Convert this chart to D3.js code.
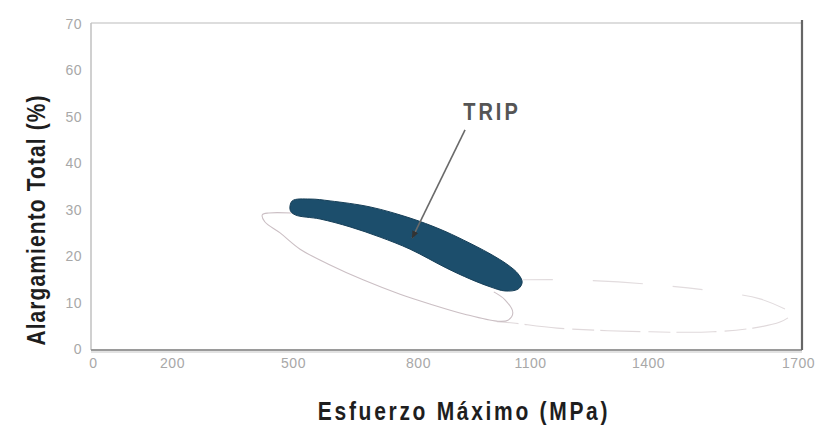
<!DOCTYPE html>
<html>
<head>
<meta charset="utf-8">
<script src="https://cdn.jsdelivr.net/npm/d3@7"></script>
<style>
  html, body { margin: 0; padding: 0; background: #fff; }
  svg { display: block; }
</style>
</head>
<body>
<svg id="chart" width="830" height="426"></svg>
<script>
// ---------- data ----------
const xTicks = [0, 200, 500, 800, 1100, 1400, 1700];
const yTicks = [0, 10, 20, 30, 40, 50, 60, 70];
const xLabel = "Esfuerzo Máximo (MPa)";
const yLabel = "Alargamiento Total (%)";

// TRIP region (closed outline, MPa / %)
const tripRegion = [
  [498, 31.9], [541, 32.3], [589, 31.9], [685, 30.6], [781, 28.2], [859, 25.8],
  [921, 23.5], [993, 20.5], [1041, 18.1], [1068, 16.2], [1079, 14.4],
  [1068, 12.9], [1033, 12.5], [993, 13.4], [939, 15.1], [877, 17.4],
  [781, 21.5], [709, 24.1], [637, 26.3], [565, 28.0], [505, 28.9], [493, 29.9]
];
// neighbouring region outline (open, partially hidden)
const otherRegion = [
  [497, 29.3], [440, 29.3], [424, 28.9], [430, 27.4], [468, 25.0], [517, 21.5], [589, 18.1],
  [668, 14.9], [757, 11.8], [832, 9.7], [925, 7.5], [1011, 6.0], [1041, 6.2],
  [1054, 7.8], [1033, 10.6], [1003, 12.3]
];
// faint high-strength region outline
const faintLower = [
  [1011, 5.9], [1055, 5.6], [1169, 4.5], [1404, 3.7], [1530, 3.7], [1610, 4.5],
  [1664, 5.8], [1680, 6.7]
];
const faintUpper = [
  [1081, 14.9], [1202, 14.9], [1397, 14.0], [1544, 12.3], [1624, 10.8], [1674, 8.6]
];
// annotation (MPa / %)
const tripLabel = { text: "TRIP", x: 921, y: 49.3 };
const tripArrow = { from: [926, 47.2], to: [786, 23.9] };

// ---------- chart ----------
const svg = d3.select("#chart");
const font = "'Liberation Sans', Arial, Helvetica, sans-serif";

const x = d3.scaleLinear().domain(xTicks).range([93, 172, 293, 418, 530, 648, 798]);
const y = d3.scaleLinear().domain([0, 70]).range([349, 24]);

const fLeft = 91, fRight = 802, fTop = 23, fBottom = 350;

// frame
svg.append("line").attr("x1", fLeft).attr("x2", fRight).attr("y1", fTop).attr("y2", fTop)
  .attr("stroke", "#d2d2d2").attr("stroke-width", 1.5);
svg.append("line").attr("x1", fLeft).attr("x2", fLeft).attr("y1", fTop).attr("y2", fBottom)
  .attr("stroke", "#c0c0c0").attr("stroke-width", 1.5);
svg.append("line").attr("x1", fLeft).attr("x2", fRight).attr("y1", fBottom + 2).attr("y2", fBottom + 2)
  .attr("stroke", "#e2e2e2").attr("stroke-width", 2);
svg.append("line").attr("x1", fLeft).attr("x2", fRight).attr("y1", fBottom).attr("y2", fBottom)
  .attr("stroke", "#9a9a9a").attr("stroke-width", 2);
svg.append("line").attr("x1", fRight).attr("x2", fRight).attr("y1", fTop - 3).attr("y2", fBottom)
  .attr("stroke", "#666").attr("stroke-width", 2.2);

// axes (labels only)
const xAxis = d3.axisBottom(x).tickValues(xTicks).tickSize(0).tickPadding(0).tickFormat(d3.format("d"));
const gx = svg.append("g").attr("transform", `translate(0,${fBottom + 18})`).call(xAxis);
gx.select(".domain").remove();
gx.selectAll("text").attr("fill", "#a8a8a8").attr("font-family", font)
  .attr("font-size", 14).attr("letter-spacing", "0.5px").attr("dy", "0");

const yAxis = d3.axisLeft(y).tickValues(yTicks).tickSize(0).tickPadding(0).tickFormat(d3.format("d"));
const gy = svg.append("g").attr("transform", `translate(82,0)`).call(yAxis);
gy.select(".domain").remove();
gy.selectAll("text").attr("fill", "#a8a8a8").attr("font-family", font)
  .attr("font-size", 14).attr("letter-spacing", "0.5px");

// regions
const openLine = d3.line().x(d => x(d[0])).y(d => y(d[1])).curve(d3.curveCatmullRom.alpha(0.5));
const closedLine = d3.line().x(d => x(d[0])).y(d => y(d[1])).curve(d3.curveCatmullRomClosed.alpha(0.5));

svg.append("path").attr("d", openLine(faintLower)).attr("fill", "none")
  .attr("stroke", "#e0d9db").attr("stroke-width", 1.1).attr("stroke-dasharray", "22 6 40 8");
svg.append("path").attr("d", openLine(faintUpper)).attr("fill", "none")
  .attr("stroke", "#e2dcde").attr("stroke-width", 1.1).attr("stroke-dasharray", "30 40 50 30");

svg.append("path").attr("d", openLine(otherRegion)).attr("fill", "none")
  .attr("stroke", "#cbbfc4").attr("stroke-width", 1.1);

svg.append("path").attr("d", closedLine(tripRegion))
  .attr("fill", "#1c4e6c").attr("stroke", "#173f58").attr("stroke-width", 1);

// annotation
svg.append("defs").append("marker").attr("id", "ah")
  .attr("viewBox", "0 0 10 10").attr("refX", 9).attr("refY", 5)
  .attr("markerWidth", 5).attr("markerHeight", 5).attr("orient", "auto")
  .append("path").attr("d", "M0,1 L10,5 L0,9 Z").attr("fill", "#333");
svg.append("line")
  .attr("x1", x(tripArrow.from[0])).attr("y1", y(tripArrow.from[1]))
  .attr("x2", x(tripArrow.to[0])).attr("y2", y(tripArrow.to[1]))
  .attr("stroke", "#6a6a6a").attr("stroke-width", 1.6).attr("marker-end", "url(#ah)");

svg.append("text")
  .attr("transform", `translate(${x(tripLabel.x)},${y(tripLabel.y)}) scale(1,1.15)`)
  .attr("font-family", font).attr("font-weight", "bold").attr("font-size", 20)
  .attr("letter-spacing", "3px").attr("fill", "#555").text(tripLabel.text);

// titles
svg.append("text")
  .attr("transform", "translate(464,420) scale(1,1.2)")
  .attr("text-anchor", "middle").attr("font-family", font).attr("font-weight", "bold")
  .attr("font-size", 21).attr("letter-spacing", "2.7px").attr("fill", "#1e1e1e")
  .text(xLabel);

svg.append("text")
  .attr("transform", "translate(45,220) rotate(-90) scale(1,1.2)")
  .attr("text-anchor", "middle").attr("font-family", font).attr("font-weight", "bold")
  .attr("font-size", 21).attr("letter-spacing", "1.1px").attr("fill", "#1e1e1e")
  .text(yLabel);
</script>
</body>
</html>
